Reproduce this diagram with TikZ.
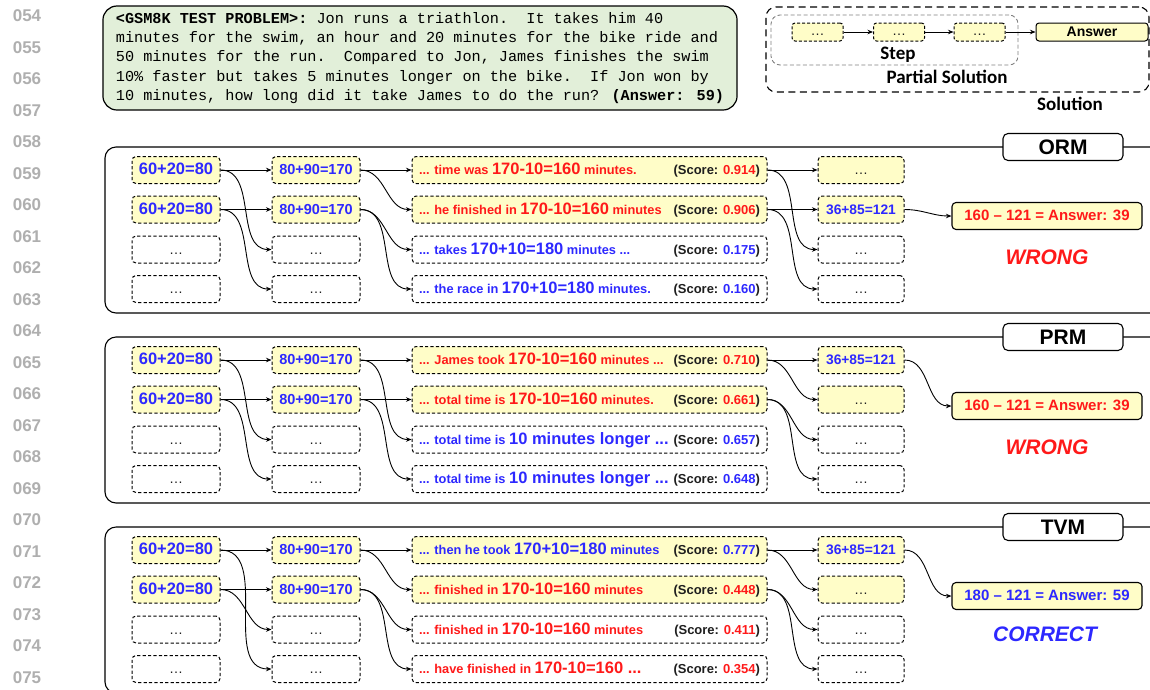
\documentclass[tikz,border=0pt]{standalone}
\usepackage{fontspec}
\setmainfont{Liberation Sans}
\newfontfamily\probfont{Liberation Mono}
\newfontfamily\legfont{Carlito}
\usetikzlibrary{arrows.meta}

\definecolor{stepyellow}{RGB}{255,253,200}
\definecolor{probgreen}{RGB}{226,239,217}
\definecolor{hiblue}{RGB}{45,40,255}
\definecolor{hired}{RGB}{255,25,25}
\definecolor{numgray}{RGB}{175,175,175}
\definecolor{inkgray}{RGB}{30,30,30}

% text pieces inside the step boxes
\newcommand\sm[1]{{\fontsize{12.8}{15}\selectfont #1}}
\newcommand\bg[1]{{\fontsize{16.5}{19}\selectfont #1}}
\newcommand\rtx[1]{\textcolor{hired}{#1}}
\newcommand\btx[1]{\textcolor{hiblue}{#1}}
\newcommand\score[2]{{\fontsize{13}{15}\selectfont\textcolor{inkgray}{(Score: }\textcolor{#1}{#2}\textcolor{inkgray}{)}}}
\newcommand\ctext[2]{\makebox[341pt][l]{#1\hfill#2}}
\newcommand\gap{{\mdseries\fontsize{14}{16}\selectfont\textcolor{inkgray}{\dots}}}

\begin{document}
\begin{tikzpicture}[x=1pt,y=-1pt,
  linenum/.style={font=\bfseries\fontsize{17}{20}\selectfont, text=numgray, inner sep=0pt},
  probbox/.style={draw, line width=1.2pt, rounded corners=14pt, fill=probgreen,
    minimum width=630pt, minimum height=104pt, align=left, inner xsep=13pt,
    font=\probfont\fontsize{15.2}{19.2}\selectfont},
  stepbox/.style={draw, dash pattern=on 3.2pt off 2.2pt, line width=1pt,
    rounded corners=4pt, minimum height=27pt, inner sep=0pt,
    text height=12pt, text depth=3pt, font=\bfseries},
  colA/.style={stepbox, minimum width=88pt, font=\bfseries\fontsize{16.5}{19}\selectfont, text=hiblue},
  colB/.style={stepbox, minimum width=88pt, font=\bfseries\fontsize{14.5}{17}\selectfont, text=hiblue},
  colC/.style={stepbox, minimum width=355pt, inner xsep=7pt},
  colD/.style={stepbox, minimum width=86pt, font=\bfseries\fontsize{13.8}{16}\selectfont, text=hiblue},
  hl/.style={fill=stepyellow},
  legstep/.style={draw, dash pattern=on 3pt off 2pt, line width=1pt, rounded corners=3pt,
    fill=stepyellow, minimum width=51pt, minimum height=18pt, inner sep=0pt,
    text height=7pt, text depth=1pt},
  legans/.style={draw, line width=1pt, rounded corners=3pt, fill=stepyellow,
    minimum width=112pt, minimum height=18pt, inner sep=0pt,
    font=\bfseries\fontsize{14}{16}\selectfont},
  legtext/.style={font=\legfont\bfseries\fontsize{19}{22}\selectfont, inner sep=0pt},
  panel/.style={draw, line width=1.1pt, rounded corners=11pt, minimum width=1070pt,
    minimum height=166pt, inner sep=0pt},
  tag/.style={draw, line width=1.1pt, rounded corners=5pt, fill=white, minimum width=120pt,
    minimum height=27pt, inner sep=0pt, font=\bfseries\fontsize{21}{24}\selectfont},
  answer/.style={draw, line width=1.1pt, rounded corners=4pt, fill=stepyellow,
    minimum width=190pt, minimum height=27pt, inner sep=0pt, text height=11pt, text depth=3pt,
    font=\bfseries\fontsize{15}{18}\selectfont},
  verdict/.style={font=\bfseries\itshape\fontsize{21}{24}\selectfont, inner sep=0pt},
  flow/.style={-{Stealth[length=5.5pt,width=4.5pt]}, line width=0.9pt},
  swoop/.style={flow, out=0, in=180}
]
\useasboundingbox (0,0) rectangle (1150,689);
\clip (0,0) rectangle (1150,689);

% line numbers down the margin
\foreach \i in {0,...,21}{
  \pgfmathtruncatemacro\n{54+\i}
  \node[linenum] (ln\i) at ({27},{16+31.5*\i}) {0\n};
}

% problem statement
\node[probbox] (prob) at (420,58) {%
\frenchspacing\textbf{<GSM8K TEST PROBLEM>:} Jon runs a triathlon.\ \ It takes him 40\\
minutes for the swim, an hour and 20 minutes for the bike ride and\\
50 minutes for the run.\ \ Compared to Jon, James finishes the swim\\
10\% faster but takes 5 minutes longer on the bike.\ \ If Jon won by\\
10 minutes, how long did it take James to do the run? \textbf{(Answer: 59)}};

% legend
\node[draw, dash pattern=on 7pt off 4.5pt, line width=1.1pt, rounded corners=10pt,
  minimum width=383pt, minimum height=85pt, inner sep=0pt] (solframe) at (957.5,49.5) {};
\node[draw=gray, dash pattern=on 4pt off 2.5pt, line width=0.9pt, rounded corners=9pt,
  minimum width=247pt, minimum height=50pt, inner sep=0pt] (partframe) at (894.5,40) {};
\node[legstep] (ls1) at (817.5,32) {\gap};
\node[legstep] (ls2) at (899,32) {\gap};
\node[legstep] (ls3) at (979.5,32) {\gap};
\node[legans] (lans) at (1092,32) {Answer};
\draw[flow] (ls1) -- (ls2);
\draw[flow] (ls2) -- (ls3);
\draw[flow] (ls3) -- (lans);
\node[legtext] (lstep) at (898,55) {Step};
\node[legtext] (lpart) at (947,77) {Partial Solution};
\node[legtext] (lsol) at (1070,104) {Solution};

% ---------------- ORM ----------------
\node[panel] (orm) at (640,230) {};
\node[tag] (ormtag) at (1063,147) {ORM};
\node[colA,hl] (o-a1) at (176,170) {60+20=80};
\node[colA,hl] (o-a2) at (176,209.5) {60+20=80};
\node[colA] (o-a3) at (176,249.5) {\gap};
\node[colA] (o-a4) at (176,289) {\gap};
\node[colB,hl] (o-b1) at (316,170) {80+90=170};
\node[colB,hl] (o-b2) at (316,209.5) {80+90=170};
\node[colB] (o-b3) at (316,249.5) {\gap};
\node[colB] (o-b4) at (316,289) {\gap};
\node[colC,hl] (o-c1) at (589.5,170) {\ctext{\rtx{\sm{... time was }\bg{170-10=160}\sm{ minutes.}}}{\score{hired}{0.914}}};
\node[colC,hl] (o-c2) at (589.5,209.5) {\ctext{\rtx{\sm{... he finished in }\bg{170-10=160}\sm{ minutes}}}{\score{hired}{0.906}}};
\node[colC] (o-c3) at (589.5,249.5) {\ctext{\btx{\sm{... takes }\bg{170+10=180}\sm{ minutes ...}}}{\score{hiblue}{0.175}}};
\node[colC] (o-c4) at (589.5,289) {\ctext{\btx{\sm{... the race in }\bg{170+10=180}\sm{ minutes.}}}{\score{hiblue}{0.160}}};
\node[colD,hl] (o-d1) at (861,170) {\gap};
\node[colD,hl] (o-d2) at (861,209.5) {36+85=121};
\node[colD] (o-d3) at (861,249.5) {\gap};
\node[colD] (o-d4) at (861,289) {\gap};
\node[answer, text=hired] (o-ans) at (1047,216) {160 -- 121 = Answer: 39};
\node[verdict, text=hired] (o-ver) at (1047,257) {WRONG};
\draw[flow] (o-a1.east) -- (o-b1.west);
\draw[swoop] (o-a1.east) to (o-b3.west);
\draw[flow] (o-a2.east) -- (o-b2.west);
\draw[swoop] (o-a2.east) to (o-b4.west);
\draw[flow] (o-b1.east) -- (o-c1.west);
\draw[swoop] (o-b1.east) to (o-c2.west);
\draw[swoop] (o-b2.east) to (o-c3.west);
\draw[swoop] (o-b2.east) to (o-c4.west);
\draw[flow] (o-c1.east) -- (o-d1.west);
\draw[swoop] (o-c1.east) to (o-d3.west);
\draw[flow] (o-c2.east) -- (o-d2.west);
\draw[swoop] (o-c2.east) to (o-d4.west);
\draw[swoop] (o-d2.east) to (o-ans.west);

% ---------------- PRM ----------------
\node[panel] (prm) at (640,420) {};
\node[tag] (prmtag) at (1063,337) {PRM};
\node[colA,hl] (p-a1) at (176,360) {60+20=80};
\node[colA,hl] (p-a2) at (176,399.5) {60+20=80};
\node[colA] (p-a3) at (176,439.5) {\gap};
\node[colA] (p-a4) at (176,479) {\gap};
\node[colB,hl] (p-b1) at (316,360) {80+90=170};
\node[colB,hl] (p-b2) at (316,399.5) {80+90=170};
\node[colB] (p-b3) at (316,439.5) {\gap};
\node[colB] (p-b4) at (316,479) {\gap};
\node[colC,hl] (p-c1) at (589.5,360) {\ctext{\rtx{\sm{... James took }\bg{170-10=160}\sm{ minutes ...}}}{\score{hired}{0.710}}};
\node[colC,hl] (p-c2) at (589.5,399.5) {\ctext{\rtx{\sm{... total time is }\bg{170-10=160}\sm{ minutes.}}}{\score{hired}{0.661}}};
\node[colC] (p-c3) at (589.5,439.5) {\ctext{\btx{\sm{... total time is }\bg{10 minutes longer ...}}}{\score{hiblue}{0.657}}};
\node[colC] (p-c4) at (589.5,479) {\ctext{\btx{\sm{... total time is }\bg{10 minutes longer ...}}}{\score{hiblue}{0.648}}};
\node[colD,hl] (p-d1) at (861,360) {36+85=121};
\node[colD,hl] (p-d2) at (861,399.5) {\gap};
\node[colD] (p-d3) at (861,439.5) {\gap};
\node[colD] (p-d4) at (861,479) {\gap};
\node[answer, text=hired] (p-ans) at (1047,406) {160 -- 121 = Answer: 39};
\node[verdict, text=hired] (p-ver) at (1047,447) {WRONG};
\draw[flow] (p-a1.east) -- (p-b1.west);
\draw[swoop] (p-a1.east) to (p-b3.west);
\draw[flow] (p-a2.east) -- (p-b2.west);
\draw[swoop] (p-a2.east) to (p-b4.west);
\draw[flow] (p-b1.east) -- (p-c1.west);
\draw[swoop] (p-b1.east) to (p-c3.west);
\draw[flow] (p-b2.east) -- (p-c2.west);
\draw[swoop] (p-b2.east) to (p-c4.west);
\draw[flow] (p-c1.east) -- (p-d1.west);
\draw[swoop] (p-c1.east) to (p-d2.west);
\draw[swoop] (p-c2.east) to (p-d3.west);
\draw[swoop] (p-c2.east) to (p-d4.west);
\draw[swoop] (p-d1.east) to (p-ans.west);

% ---------------- TVM ----------------
\node[panel] (tvm) at (640,610) {};
\node[tag] (tvmtag) at (1063,527) {TVM};
\node[colA,hl] (t-a1) at (176,550) {60+20=80};
\node[colA,hl] (t-a2) at (176,589.5) {60+20=80};
\node[colA] (t-a3) at (176,629.5) {\gap};
\node[colA] (t-a4) at (176,669) {\gap};
\node[colB,hl] (t-b1) at (316,550) {80+90=170};
\node[colB,hl] (t-b2) at (316,589.5) {80+90=170};
\node[colB] (t-b3) at (316,629.5) {\gap};
\node[colB] (t-b4) at (316,669) {\gap};
\node[colC,hl] (t-c1) at (589.5,550) {\ctext{\btx{\sm{... then he took }\bg{170+10=180}\sm{ minutes}}}{\score{hiblue}{0.777}}};
\node[colC,hl] (t-c2) at (589.5,589.5) {\ctext{\rtx{\sm{... finished in }\bg{170-10=160}\sm{ minutes}}}{\score{hired}{0.448}}};
\node[colC] (t-c3) at (589.5,629.5) {\ctext{\rtx{\sm{... finished in }\bg{170-10=160}\sm{ minutes}}}{\score{hired}{0.411}}};
\node[colC] (t-c4) at (589.5,669) {\ctext{\rtx{\sm{... have finished in }\bg{170-10=160 ...}}}{\score{hired}{0.354}}};
\node[colD,hl] (t-d1) at (861,550) {36+85=121};
\node[colD,hl] (t-d2) at (861,589.5) {\gap};
\node[colD] (t-d3) at (861,629.5) {\gap};
\node[colD] (t-d4) at (861,669) {\gap};
\node[answer, text=hiblue] (t-ans) at (1047,596) {180 -- 121 = Answer: 59};
\node[verdict, text=hiblue] (t-ver) at (1045,634) {CORRECT};
\draw[flow] (t-a1.east) -- (t-b1.west);
\draw[swoop] (t-a1.east) to (t-b4.west);
\draw[flow] (t-a2.east) -- (t-b2.west);
\draw[swoop] (t-a2.east) to (t-b3.west);
\draw[flow] (t-b1.east) -- (t-c1.west);
\draw[swoop] (t-b1.east) to (t-c2.west);
\draw[swoop] (t-b2.east) to (t-c3.west);
\draw[swoop] (t-b2.east) to (t-c4.west);
\draw[flow] (t-c1.east) -- (t-d1.west);
\draw[swoop] (t-c1.east) to (t-d2.west);
\draw[swoop] (t-c2.east) to (t-d3.west);
\draw[swoop] (t-c2.east) to (t-d4.west);
\draw[swoop] (t-d1.east) to (t-ans.west);
\end{tikzpicture}
\end{document}
